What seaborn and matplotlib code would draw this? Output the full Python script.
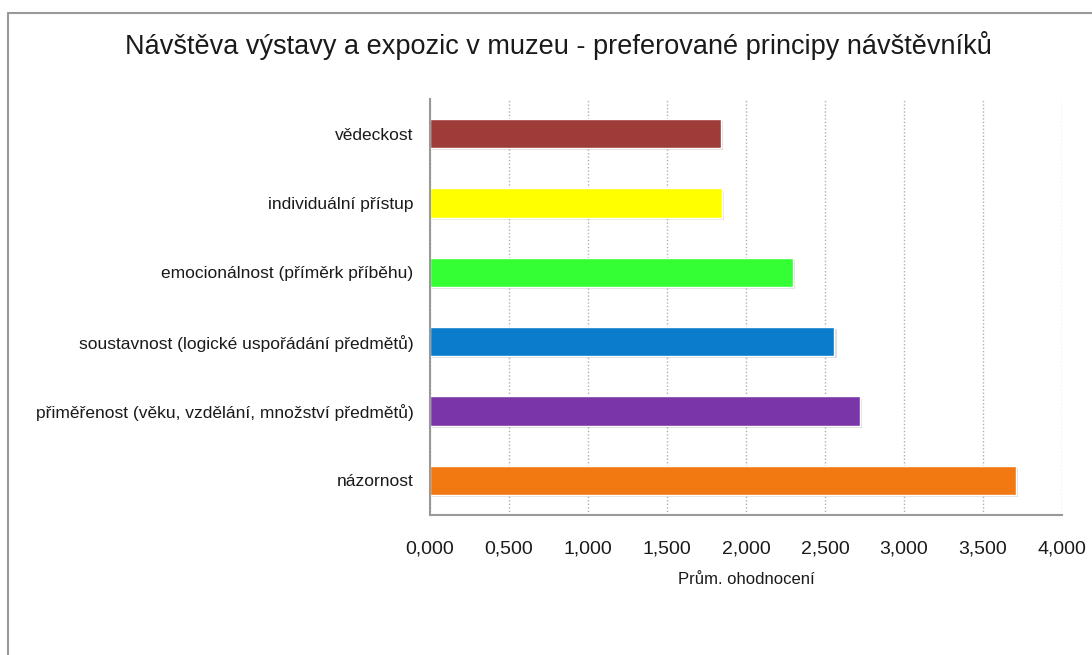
import numpy as np
import pandas as pd
import matplotlib
matplotlib.use("Agg")
import matplotlib.pyplot as plt
import matplotlib.patheffects as pe
from matplotlib.lines import Line2D
from matplotlib.ticker import FuncFormatter, MultipleLocator
import seaborn as sns

categories = [
    "vědeckost",
    "individuální přístup",
    "emocionálnost (příměrk příběhu)",
    "soustavnost (logické uspořádání předmětů)",
    "přiměřenost (věku, vzdělání, množství předmětů)",
    "názornost",
]
values = [1.84, 1.85, 2.30, 2.56, 2.72, 3.71]
colors = ["#9E3C3A", "#FFFF00", "#33FF33", "#0B7BCC", "#7A36A8", "#F27812"]

df = pd.DataFrame({"kategorie": categories, "hodnota": values})

sns.set_style("white")
plt.rcParams["font.family"] = ["Liberation Sans", "DejaVu Sans"]

fig = plt.figure(figsize=(10.92, 6.55), dpi=100)
ax = fig.add_axes([0.3938, 0.2137, 0.5787, 0.6352])

sns.barplot(data=df, y="kategorie", x="hodnota", hue="kategorie",
            palette=colors, legend=False, width=0.42, ax=ax, saturation=1)

for bar in ax.patches:
    bar.set_path_effects([pe.SimplePatchShadow(offset=(1.5, -1.5), alpha=0.15),
                          pe.Normal()])

ax.set_xlim(0, 4)
ax.set_ylim(5.5, -0.5)
ax.xaxis.set_major_locator(MultipleLocator(0.5))
ax.xaxis.set_major_formatter(FuncFormatter(lambda v, p: f"{v:.3f}".replace(".", ",")))
ax.grid(axis="x", color="#b0b0b0", linestyle=(0, (1, 1.5)), linewidth=1)
ax.set_axisbelow(True)

for s in ["top", "right"]:
    ax.spines[s].set_visible(False)
for s in ["left", "bottom"]:
    ax.spines[s].set_color("#999999")
    ax.spines[s].set_linewidth(1.5)

ax.tick_params(axis="x", length=0, pad=18, labelsize=14, colors="#1a1a1a")
ax.tick_params(axis="y", length=0, pad=12, labelsize=12.5, colors="#1a1a1a")
ax.set_ylabel("")
ax.set_xlabel("Prům. ohodnocení", fontsize=12, labelpad=11, color="#1a1a1a")

fig.text(0.511, 0.93, "Návštěva výstavy a expozic v muzeu - preferované principy návštěvníků",
         ha="center", va="center", fontsize=19.5, color="#1a1a1a")

# frame around the chart (left and top only)
fig.add_artist(Line2D([8 / 1092, 8 / 1092], [0, 1 - 13 / 655], color="#999999", linewidth=1.5))
fig.add_artist(Line2D([8 / 1092, 1], [1 - 13 / 655, 1 - 13 / 655], color="#999999", linewidth=1.5))

fig.savefig("out.png", dpi=100)
